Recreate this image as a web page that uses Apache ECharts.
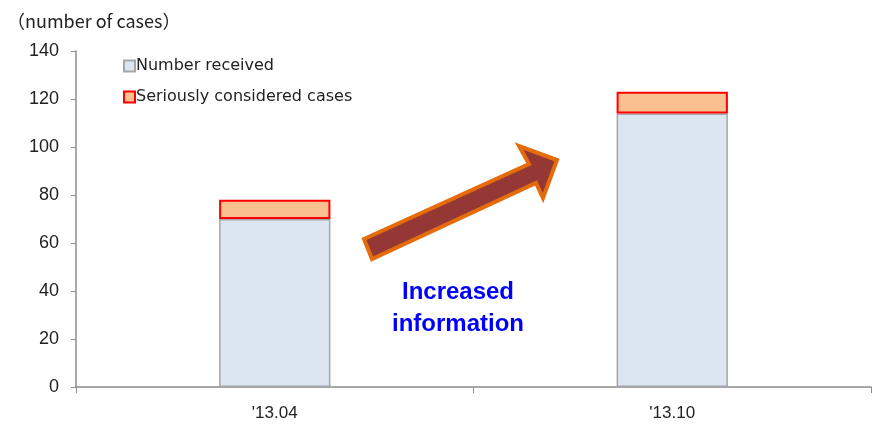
<!DOCTYPE html>
<html>
<head>
<meta charset="utf-8">
<script src="https://cdn.jsdelivr.net/npm/echarts@6/dist/echarts.min.js"></script>
<style>
  html, body { margin: 0; padding: 0; background: #fff; }
  #chart { width: 874px; height: 432px; }
</style>
</head>
<body>
<div id="chart"></div>
<script>
// Survey periods and case counts
const periods = ["'13.04", "'13.10"];
const numberReceived = [70, 114];
const seriouslyConsidered = [8, 9];
const yTicks = { min: 0, max: 140, step: 20 };

const chart = echarts.init(document.getElementById('chart'));
const narrow = '"Liberation Sans Narrow", "Liberation Sans", Arial, sans-serif';
const legendFont = '"DejaVu Sans", "Noto Sans CJK KR", sans-serif';

chart.setOption({
  animation: false,
  grid: { left: 76, right: 3, top: 51, bottom: 45 },
  title: {
    text: '（number of cases）',
    left: 2, top: 7,
    textStyle: { fontFamily: '"Noto Sans CJK KR", "DejaVu Sans", sans-serif', fontSize: 18, fontWeight: 'normal', color: '#222' }
  },
  legend: {
    orient: 'vertical',
    left: 118, top: 53,
    itemWidth: 11, itemHeight: 11,
    itemGap: 15,
    icon: 'rect',
    textStyle: { fontFamily: legendFont, fontSize: 16, color: '#222', padding: [0, 0, 0, -4] },
    data: ['Number received', 'Seriously considered cases']
  },
  xAxis: {
    type: 'category',
    data: periods,
    boundaryGap: true,
    axisLine: { lineStyle: { color: '#8c8c8c', width: 1.5 } },
    axisTick: { show: true, length: 6, alignWithLabel: false, lineStyle: { color: '#8c8c8c' } },
    axisLabel: { fontFamily: narrow, fontSize: 17, color: '#222', margin: 18 }
  },
  yAxis: {
    type: 'value',
    min: yTicks.min, max: yTicks.max, interval: yTicks.step,
    splitLine: { show: false },
    axisLine: { show: true, lineStyle: { color: '#8c8c8c', width: 1.5 } },
    axisTick: { show: true, length: 5, lineStyle: { color: '#8c8c8c' } },
    axisLabel: { fontFamily: narrow, fontSize: 18, color: '#222', margin: 17 }
  },
  series: [
    {
      name: 'Number received',
      type: 'bar',
      stack: 'cases',
      barWidth: '28%',
      data: numberReceived,
      itemStyle: { color: '#dce6f2', borderColor: '#a6a6a6', borderWidth: 1.5 }
    },
    {
      name: 'Seriously considered cases',
      type: 'bar',
      stack: 'cases',
      barWidth: '28%',
      data: seriouslyConsidered,
      itemStyle: { color: '#fac090', borderColor: '#ff0000', borderWidth: 2 }
    }
  ],
  graphic: [
    {
      type: 'polygon',
      shape: {
        points: [
          [364, 239], [529, 164], [519, 146], [557, 160],
          [543, 198], [536, 183], [372, 259]
        ]
      },
      style: { fill: '#953735', stroke: '#e46c0a', lineWidth: 4, lineJoin: 'miter' }
    },
    {
      type: 'text',
      x: 458, y: 276,
      style: {
        text: 'Increased\ninformation',
        align: 'center',
        fill: '#0000ff',
        font: 'bold 24px "Liberation Sans", Arial, sans-serif',
        lineHeight: 32
      }
    }
  ]
});
</script>
</body>
</html>
